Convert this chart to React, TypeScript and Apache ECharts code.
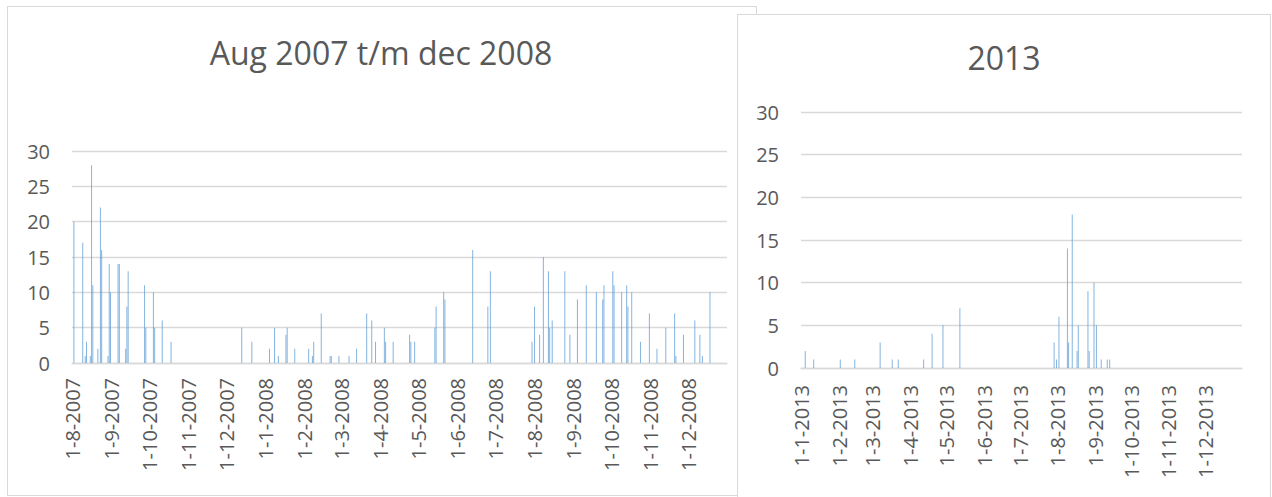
import React, { useEffect, useRef } from "react";
import * as echarts from "echarts";

// ---------- DATA ----------
const leftTitle = "Aug 2007 t/m dec 2008";
const rightTitle = "2013";
const yTicks = [0, 5, 10, 15, 20, 25, 30];

const rain0708Dates = [
  "2007-08-02", "2007-08-09", "2007-08-11", "2007-08-12", "2007-08-15", "2007-08-16", "2007-08-17",
  "2007-08-21", "2007-08-23", "2007-08-24", "2007-08-29", "2007-08-30", "2007-08-31",
  "2007-09-06", "2007-09-07", "2007-09-12", "2007-09-13", "2007-09-14", "2007-09-27", "2007-09-28",
  "2007-10-04", "2007-10-05", "2007-10-11", "2007-10-18",
  "2007-12-13", "2007-12-21",
  "2008-01-04", "2008-01-08", "2008-01-11", "2008-01-17", "2008-01-18", "2008-01-24",
  "2008-02-04", "2008-02-07", "2008-02-08", "2008-02-14", "2008-02-21", "2008-02-22", "2008-02-28",
  "2008-03-07", "2008-03-13", "2008-03-21", "2008-03-25", "2008-03-28",
  "2008-04-04", "2008-04-05", "2008-04-11", "2008-04-24", "2008-04-25", "2008-04-28",
  "2008-05-14", "2008-05-15", "2008-05-21", "2008-05-22",
  "2008-06-13", "2008-06-25", "2008-06-27",
  "2008-07-30",
  "2008-08-01", "2008-08-05", "2008-08-08", "2008-08-12", "2008-08-13", "2008-08-15", "2008-08-25", "2008-08-29",
  "2008-09-04", "2008-09-11", "2008-09-19", "2008-09-24", "2008-09-25",
  "2008-10-02", "2008-10-03", "2008-10-09", "2008-10-13", "2008-10-14", "2008-10-17", "2008-10-24", "2008-10-31",
  "2008-11-06", "2008-11-13", "2008-11-20", "2008-11-21", "2008-11-27",
  "2008-12-06", "2008-12-10", "2008-12-12", "2008-12-18",
];
const rain0708Values = [
  20, 17, 1, 3, 1, 28, 11,
  2, 22, 16, 1, 14, 10,
  14, 14, 2, 8, 13, 11, 5,
  10, 5, 6, 3,
  5, 3,
  2, 5, 1, 4, 5, 2,
  2, 1, 3, 7, 1, 1, 1,
  1, 2, 7, 6, 3,
  5, 3, 3, 4, 3, 3,
  5, 8, 10, 9,
  16, 8, 13,
  3,
  8, 4, 15, 13, 5, 6, 13, 4,
  9, 11, 10, 9, 11,
  13, 11, 10, 11, 8, 10, 3, 7,
  2, 5, 7, 1, 4,
  6, 4, 1, 10,
];

const rain2013Dates = [
  "2013-01-04", "2013-01-11", "2013-02-02", "2013-02-14", "2013-03-07", "2013-03-17", "2013-03-22",
  "2013-04-12", "2013-04-19", "2013-04-28", "2013-05-12",
  "2013-07-29", "2013-07-31", "2013-08-02", "2013-08-09", "2013-08-10", "2013-08-13", "2013-08-17",
  "2013-08-18", "2013-08-26", "2013-08-27", "2013-08-31", "2013-09-02", "2013-09-06", "2013-09-11", "2013-09-13",
];
const rain2013Values = [
  2, 1, 1, 1, 3, 1, 1,
  1, 4, 5, 7,
  3, 1, 6, 14, 3, 18, 2,
  5, 9, 2, 10, 5, 1, 1, 1,
];

// ---------- HELPERS ----------
function buildDays(start: [number, number, number], end: [number, number, number]) {
  const out: { key: string; label: string }[] = [];
  let t = Date.UTC(start[0], start[1] - 1, start[2]);
  const e = Date.UTC(end[0], end[1] - 1, end[2]);
  while (t <= e) {
    const d = new Date(t);
    const y = d.getUTCFullYear();
    const m = d.getUTCMonth() + 1;
    const dd = d.getUTCDate();
    const key = `${y}-${String(m).padStart(2, "0")}-${String(dd).padStart(2, "0")}`;
    out.push({ key, label: `${dd}-${m}-${y}` });
    t += 86400000;
  }
  return out;
}

function buildSeries(days: { key: string }[], dates: string[], values: number[]) {
  const map: Record<string, number> = {};
  dates.forEach((d, i) => (map[d] = values[i]));
  return days.map((d) => (d.key in map ? map[d.key] : null));
}

const FONT = "'Open Sans', sans-serif";
const TEXT = "#595959";
const GRID = "#d9d9d9";

function makeOption(
  title: string,
  titlePos: [number, number],
  grid: { left: number; top: number; width: number; height: number },
  days: { key: string; label: string }[],
  data: (number | null)[],
  labelMargin: number
) {
  return {
    animation: false,
    graphic: [
      {
        type: "text",
        x: titlePos[0],
        y: titlePos[1],
        style: {
          text: title,
          fill: TEXT,
          font: `32px ${FONT}`,
          textAlign: "center",
          textVerticalAlign: "middle",
        },
      },
    ],
    grid: { ...grid, containLabel: false },
    xAxis: {
      type: "category",
      data: days.map((d) => d.label),
      boundaryGap: true,
      axisLine: { show: true, lineStyle: { color: GRID, width: 1.3 } },
      axisTick: { show: false },
      splitLine: { show: false },
      axisLabel: {
        interval: (_i: number, v: string) => v.startsWith("1-"),
        rotate: 90,
        margin: labelMargin,
        color: TEXT,
        fontFamily: FONT,
        fontSize: 20,
      },
    },
    yAxis: {
      type: "value",
      min: yTicks[0],
      max: yTicks[yTicks.length - 1],
      interval: 5,
      axisLine: { show: false },
      axisTick: { show: false },
      splitLine: { show: true, lineStyle: { color: GRID, width: 1.3 } },
      axisLabel: { color: TEXT, fontFamily: FONT, fontSize: 20, margin: 22 },
    },
    series: [
      {
        type: "bar",
        data,
        barWidth: 1,
        itemStyle: { color: "#5B9BD5", opacity: 0.75 },
      },
    ],
  };
}

export default function App() {
  const leftRef = useRef<HTMLDivElement>(null);
  const rightRef = useRef<HTMLDivElement>(null);

  useEffect(() => {
    const leftDays = buildDays([2007, 8, 1], [2008, 12, 31]);
    const rightDays = buildDays([2013, 1, 1], [2013, 12, 31]);
    const lc = echarts.init(leftRef.current!, null, { renderer: "svg" });
    const rc = echarts.init(rightRef.current!, null, { renderer: "svg" });
    lc.setOption(
      makeOption(leftTitle, [373, 45], { left: 64, top: 144, width: 655, height: 212 }, leftDays,
        buildSeries(leftDays, rain0708Dates, rain0708Values), 15)
    );
    rc.setOption(
      makeOption(rightTitle, [266, 42], { left: 63, top: 97, width: 441, height: 256 }, rightDays,
        buildSeries(rightDays, rain2013Dates, rain2013Values), 17)
    );
    return () => {
      lc.dispose();
      rc.dispose();
    };
  }, []);

  return (
    <div style={{ position: "fixed", left: 0, top: 0, width: 1272, height: 497, overflow: "hidden", background: "#fff" }}>
      <div
        style={{
          position: "absolute", left: 7, top: 6, width: 748, height: 488,
          border: `1px solid ${GRID}`, background: "#fff",
        }}
      >
        <div ref={leftRef} style={{ position: "absolute", left: 0, top: 0, width: 748, height: 488 }} />
      </div>
      <div
        style={{
          position: "absolute", left: 737, top: 14, width: 532, height: 488,
          border: `1px solid ${GRID}`, background: "#fff", zIndex: 2,
        }}
      >
        <div ref={rightRef} style={{ position: "absolute", left: 0, top: 0, width: 532, height: 488 }} />
      </div>
    </div>
  );
}
